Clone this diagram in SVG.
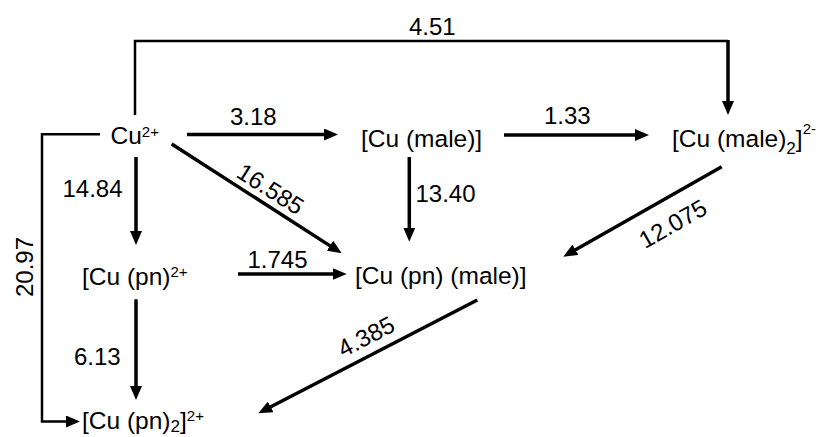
<svg xmlns="http://www.w3.org/2000/svg" width="823" height="437" viewBox="0 0 823 437">
<defs>
<style>
text{font-family:"Liberation Sans",Arial,Helvetica,sans-serif;font-size:24px;fill:#000}
.node{font-size:24.5px}
.sup{font-size:15px}
.sub{font-size:17px}
.ln{fill:none;stroke:#000;stroke-width:2.5}
.ar{fill:none;stroke:#000;stroke-width:3.5;marker-end:url(#ah)}
</style>
<marker id="ah" markerUnits="userSpaceOnUse" markerWidth="14" markerHeight="12" refX="8" refY="6" orient="auto" viewBox="0 0 14 12">
<path d="M0,0 L14,6 L0,12 Z" fill="#000"/>
</marker>
</defs>
<rect width="823" height="437" fill="#fff"/>
<g id="connectors">
<path class="ln" d="M135,115 V41 H728"/>
<path class="ar" d="M728,40 V109"/>
<path class="ar" d="M187,134.5 H332"/>
<path class="ar" d="M504,135 H643"/>
<path class="ar" d="M136,157 V239"/>
<path class="ar" d="M409.3,157 V235.7"/>
<path class="ar" d="M171.7,144 L336.7,250.1"/>
<path class="ar" d="M721.7,166.7 L568.5,253.7"/>
<path class="ar" d="M238,274 H340.7"/>
<path class="ar" d="M136,299.3 V394"/>
<path class="ar" d="M477.3,300 L263.6,410.5"/>
<path class="ln" d="M100,134.3 H42 V421.5 H74" style="marker-end:url(#ah)"/>
<text x="409" y="35">4.51</text>
<text x="230" y="125">3.18</text>
<text x="544" y="124">1.33</text>
<text x="62.5" y="197">14.84</text>
<text x="415.5" y="202">13.40</text>
<text x="247.5" y="268">1.745</text>
<text x="74" y="365">6.13</text>
<text text-anchor="middle" transform="translate(33,267) rotate(-90)">20.97</text>
<text text-anchor="middle" transform="translate(266,196) rotate(32.7)">16.585</text>
<text text-anchor="middle" transform="translate(677,231) rotate(-29.6)">12.075</text>
<text text-anchor="middle" transform="translate(370,344) rotate(-27.4)">4.385</text>
</g>
<g id="cu"><text class="node" x="110.5" y="144">Cu<tspan class="sup" y="137">2+</tspan></text></g>
<g id="cu-male"><text class="node" x="361" y="147">[Cu (male)]</text></g>
<g id="cu-male2"><text class="node" x="672" y="147">[Cu (male)<tspan class="sub" y="154">2</tspan><tspan y="147">]</tspan><tspan class="sup" y="134">2-</tspan></text></g>
<g id="cu-pn"><text class="node" x="82" y="285">[Cu (pn)<tspan class="sup" y="277">2+</tspan></text></g>
<g id="cu-pn-male"><text class="node" x="355" y="284">[Cu (pn) (male)]</text></g>
<g id="cu-pn2"><text class="node" x="82" y="429">[Cu (pn)<tspan class="sub" y="432">2</tspan><tspan y="429">]</tspan><tspan class="sup" y="421">2+</tspan></text></g>
</svg>
